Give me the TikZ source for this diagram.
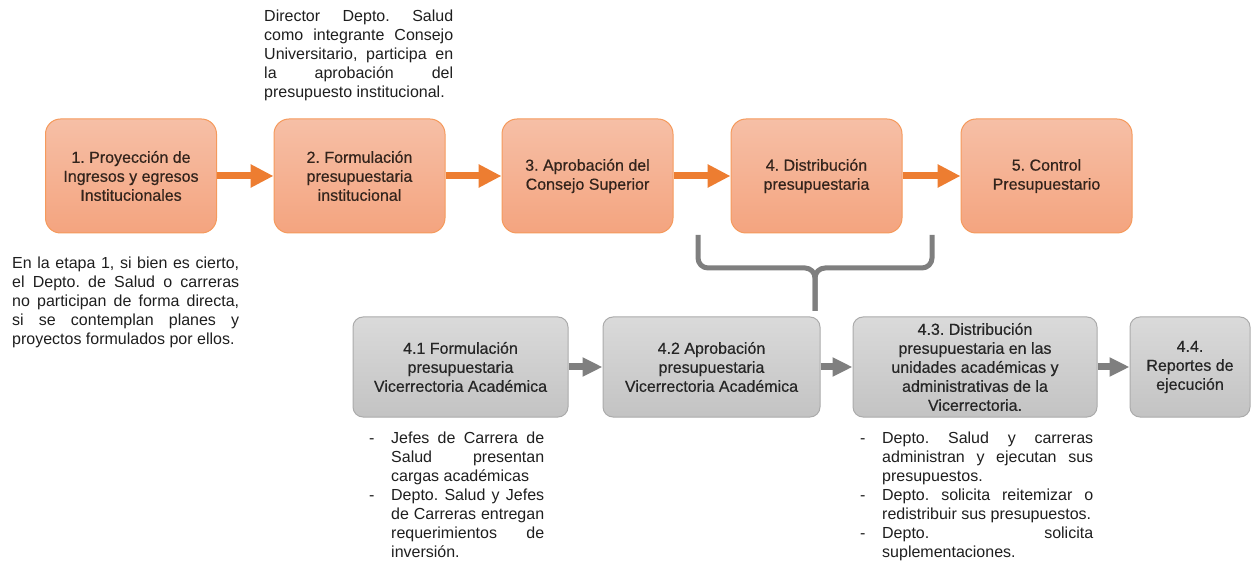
\documentclass[tikz,border=0pt]{standalone}
\usepackage{fontspec}
\setmainfont{Liberation Sans}
\newfontfamily\boxfont[FakeBold=0.5]{Liberation Sans}
\usetikzlibrary{arrows.meta}
\definecolor{otop}{HTML}{F6BFA6}
\definecolor{obot}{HTML}{F4A47F}
\definecolor{oline}{HTML}{F59A5C}
\definecolor{oarr}{HTML}{ED7D31}
\definecolor{gtop}{HTML}{DADADA}
\definecolor{gbot}{HTML}{C3C3C3}
\definecolor{gline}{HTML}{ABABAB}
\definecolor{garr}{HTML}{7F7F7F}
\definecolor{otext}{HTML}{33241C}
\definecolor{gtext}{HTML}{262626}
\definecolor{ntext}{HTML}{1E1E1E}
\setlength\parindent{0pt}
\frenchspacing
\hyphenpenalty=10000
\exhyphenpenalty=10000
\newcommand\itemdash{\hangindent=22pt\hangafter=1\noindent\hbox to 22pt{-\hfil}}
\begin{document}
\begin{tikzpicture}[x=1pt,y=-1pt,
  txt/.style={font=\fontsize{16}{19}\selectfont},
  btxt/.style={font=\boxfont\fontsize{16}{19}\selectfont},
  obox/.style={btxt, draw=oline, line width=1pt, rounded corners=15pt, top color=otop, bottom color=obot,
    minimum width=171pt, minimum height=114pt, align=center, text=otext, inner sep=0pt},
  gbox/.style={btxt, draw=gline, line width=1pt, rounded corners=10pt, top color=gtop, bottom color=gbot,
    minimum height=100pt, align=center, text=gtext, inner sep=0pt},
  oarrow/.style={draw=oarr, line width=7pt, -{Triangle[length=23pt,width=22pt]}},
  garrow/.style={draw=garr, line width=7pt, -{Triangle[length=20pt,width=18pt]}},
  note/.style={txt, anchor=north west, inner sep=0pt, text=ntext, align=justify},
  bracepart/.style={draw=garr, line width=5pt, rounded corners=10pt}
]
\useasboundingbox (0,0) rectangle (1251,561);

% top row
\node[obox] (b1) at (131,176) {1. Proyección de\\Ingresos y egresos\\Institucionales};
\node[obox] (b2) at (359.5,176) {2. Formulación\\presupuestaria\\institucional};
\node[obox] (b3) at (587.5,176) {3. Aprobación del\\Consejo Superior};
\node[obox] (b4) at (816.5,176) {4. Distribución\\presupuestaria};
\node[obox] (b5) at (1046.5,176) {5. Control\\Presupuestario};

\draw[oarrow] (b1) -- (b2);
\draw[oarrow] (b2) -- (b3);
\draw[oarrow] (b3) -- (b4);
\draw[oarrow] (b4) -- (b5);

% bottom row
\node[gbox, minimum width=215pt] (c1) at (460.5,367) {4.1 Formulación\\presupuestaria\\Vicerrectoria Académica};
\node[gbox, minimum width=217pt] (c2) at (711.5,367) {4.2 Aprobación\\presupuestaria\\Vicerrectoria Académica};
\node[gbox, minimum width=244pt] (c3) at (975,367) {4.3. Distribución\\presupuestaria en las\\unidades académicas y\\administrativas de la\\Vicerrectoria.};
\node[gbox, minimum width=120pt] (c4) at (1190,367) {4.4.\\Reportes de\\ejecución};

\draw[garrow] (c1) -- (c2);
\draw[garrow] (c2) -- (c3);
\draw[garrow] (c3) -- (c4);

% brace
\coordinate (brL) at (698,235);
\coordinate (brR) at (932,235);
\coordinate (brM) at (815,268);
\coordinate (brT) at (815,311);
\draw[bracepart] (brL) |- (brM) -- (brT);
\draw[bracepart] (brR) |- (brM) -- (brT);

% notes
\node[note, text width=189pt] (n1) at (264,10) {Director Depto. Salud\linebreak como integrante Consejo\linebreak Universitario, participa en\linebreak la aprobación del\linebreak presupuesto institucional.};
\node[note, text width=227pt] (n2) at (12,257) {En la etapa 1, si bien es cierto,\linebreak el Depto. de Salud o carreras\linebreak no participan de forma directa,\linebreak si se contemplan planes y\linebreak proyectos formulados por ellos.};
\node[note, text width=175pt] (n3) at (369,431.5) {\itemdash Jefes de Carrera de\linebreak Salud presentan\linebreak cargas académicas\par
\itemdash Depto. Salud y Jefes\linebreak de Carreras entregan\linebreak requerimientos de\linebreak inversión.\par};
\node[note, text width=233pt] (n4) at (860,432) {\itemdash Depto. Salud y carreras\linebreak administran y ejecutan sus\linebreak presupuestos.\par
\itemdash Depto. solicita reitemizar o\linebreak redistribuir sus presupuestos.\par
\itemdash Depto. solicita\linebreak suplementaciones.\par};
\end{tikzpicture}
\end{document}
